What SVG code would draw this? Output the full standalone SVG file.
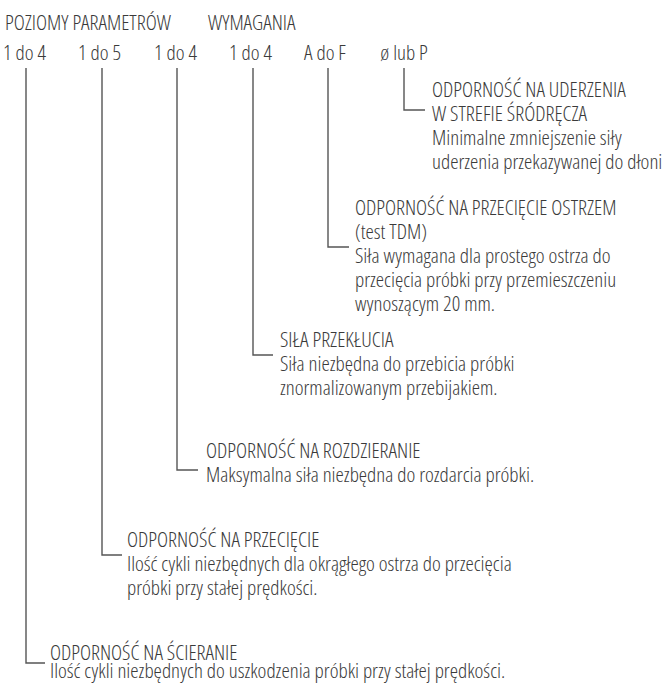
<svg xmlns="http://www.w3.org/2000/svg" width="667" height="684" viewBox="0 0 667 684">
<style>
text{font-family:"Open Sans","Liberation Sans Narrow","DejaVu Sans Condensed",sans-serif;font-stretch:75%;font-weight:300;font-size:21px;fill:#3a3a3a}
.c{fill:none;stroke:#555;stroke-width:1.4}
</style>
<rect width="667" height="684" fill="#fff"/>
<g id="header">
<text x="5" y="30">POZIOMY PARAMETRÓW</text>
<text x="208" y="30">WYMAGANIA</text>
<text x="3" y="60">1 do 4</text>
<text x="78" y="60">1 do 5</text>
<text x="154" y="60">1 do 4</text>
<text x="229" y="60">1 do 4</text>
<text x="304" y="60">A do F</text>
<text x="380" y="60">ø lub P</text>
</g>
<g id="connectors">
<path class="c" d="M404 68V110H425"/>
<path class="c" d="M328 68V247H349"/>
<path class="c" d="M253 68V355H273"/>
<path class="c" d="M177 68V470H198"/>
<path class="c" d="M102 68V555H122"/>
<path class="c" d="M26 68V663H45"/>
</g>
<g id="n6">
<text x="432" y="97">ODPORNOŚĆ NA UDERZENIA</text>
<text x="432" y="121">W STREFIE ŚRÓDRĘCZA</text>
<text x="432" y="145">Minimalne zmniejszenie siły</text>
<text x="432" y="169">uderzenia przekazywanej do dłoni</text>
</g>
<g id="n5">
<text x="355" y="215">ODPORNOŚĆ NA PRZECIĘCIE OSTRZEM</text>
<text x="355" y="239">(test TDM)</text>
<text x="355" y="263">Siła wymagana dla prostego ostrza do</text>
<text x="355" y="287">przecięcia próbki przy przemieszczeniu</text>
<text x="355" y="311">wynoszącym 20 mm.</text>
</g>
<g id="n4">
<text x="280" y="347">SIŁA PRZEKŁUCIA</text>
<text x="280" y="371">Siła niezbędna do przebicia próbki</text>
<text x="280" y="395">znormalizowanym przebijakiem.</text>
</g>
<g id="n3">
<text x="206" y="458">ODPORNOŚĆ NA ROZDZIERANIE</text>
<text x="206" y="482">Maksymalna siła niezbędna do rozdarcia próbki.</text>
</g>
<g id="n2">
<text x="127" y="547">ODPORNOŚĆ NA PRZECIĘCIE</text>
<text x="127" y="571">Ilość cykli niezbędnych dla okrągłego ostrza do przecięcia</text>
<text x="127" y="595">próbki przy stałej prędkości.</text>
</g>
<g id="n1">
<text x="50" y="660">ODPORNOŚĆ NA ŚCIERANIE</text>
<text x="50" y="678">Ilość cykli niezbędnych do uszkodzenia próbki przy stałej prędkości.</text>
</g>
</svg>
